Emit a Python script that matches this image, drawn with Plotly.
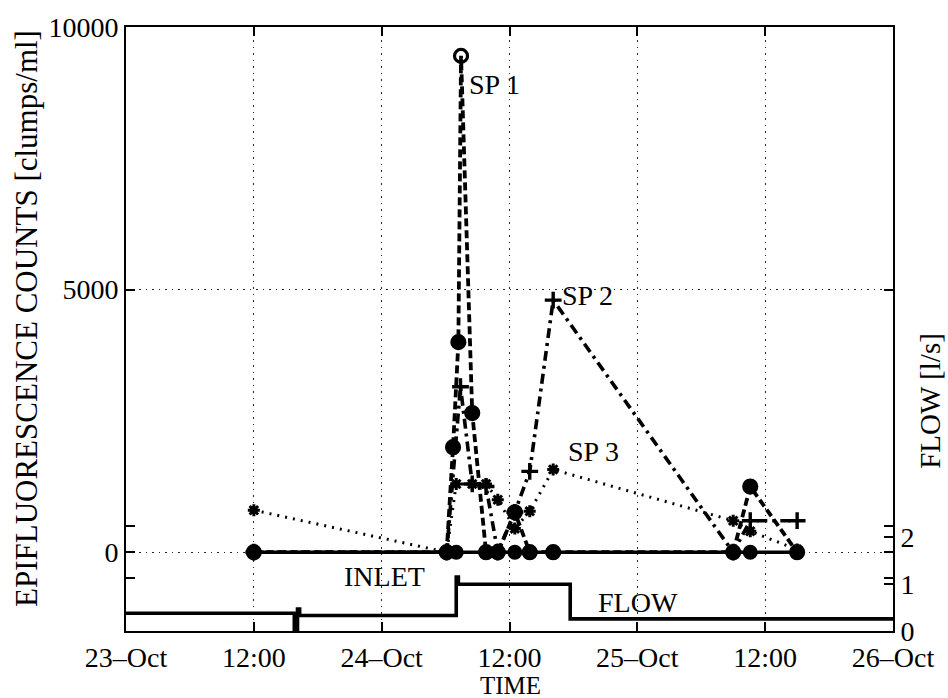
import plotly.graph_objects as go

# ---------------- data (time in hours since 23-Oct 00:00) ----------------
x_tickvals = [0, 12, 24, 36, 48, 60, 72]
x_ticktext = ["23–Oct", "12:00", "24–Oct", "12:00", "25–Oct", "12:00", "26–Oct"]

y_tickvals = [0, 5000, 10000]
y_ticktext = ["0", "5000", "10000"]

flow_tickvals = [0, 1, 2]

inlet_t = [12, 30.1, 31.0, 33.8, 34.9, 36.5, 37.9, 40.1, 57.0, 58.6, 63.0]
inlet_v = [0, 0, 0, 0, 0, 0, 0, 0, 0, 0, 0]

sp1_t = [12, 30.1, 30.7, 31.2, 31.45, 32.5, 33.8, 34.9, 36.5, 37.9, 40.1, 57.0, 58.6, 63.0]
sp1_v = [0, 0, 2000, 4000, 9450, 2650, 0, 0, 760, 0, 0, 0, 1250, 0]

sp2_t = [12, 30.1, 31.4, 32.5, 33.8, 34.9, 36.5, 37.9, 40.1, 57.0, 58.6, 63.0]
sp2_v = [0, 0, 3150, 1300, 1250, 0, 760, 1540, 4800, 0, 600, 600]

sp3_t = [12, 30.1, 31.0, 32.5, 33.8, 34.9, 36.5, 37.9, 40.1, 57.0, 58.6, 63.0]
sp3_v = [800, 0, 1300, 1300, 1300, 1000, 450, 780, 1575, 600, 400, 50]

flow_t = [0, 15.8, 16.1, 16.3, 31.0, 31.2, 41.7, 72]
flow_v = [0.38, 0.0, 0.47, 0.33, 1.15, 1.0, 0.26, 0.26]

FONT = "Liberation Serif"

fig = go.Figure()

# flow (right axis)
fig.add_trace(go.Scatter(x=flow_t, y=flow_v, yaxis="y2", mode="lines",
                         line=dict(color="black", width=3.6, shape="hv"),
                         showlegend=False))

# SP3 dotted, asterisks
fig.add_trace(go.Scatter(x=sp3_t, y=sp3_v, mode="lines+markers",
                         line=dict(color="black", width=3, dash="2px,6px"),
                         marker=dict(symbol="asterisk", size=10, color="black",
                                     line=dict(color="black", width=3)),
                         showlegend=False))

# SP2 dash-dot, plus markers
fig.add_trace(go.Scatter(x=sp2_t, y=sp2_v, mode="lines+markers",
                         line=dict(color="black", width=3.6, dash="10px,5px,3px,5px"),
                         marker=dict(symbol="cross-thin", size=12, color="black",
                                     line=dict(color="black", width=3.4)),
                         showlegend=False))

# SP1 dashed, circles
sp1_symbols = ["circle"] * len(sp1_t)
sp1_symbols[sp1_v.index(max(sp1_v))] = "circle-open"
fig.add_trace(go.Scatter(x=sp1_t, y=sp1_v, mode="lines+markers",
                         line=dict(color="black", width=3.8, dash="8px,4px"),
                         marker=dict(symbol=sp1_symbols, size=13, color="black",
                                     line=dict(color="black", width=3.2)),
                         showlegend=False))

# INLET solid, dots
fig.add_trace(go.Scatter(x=inlet_t, y=inlet_v, mode="lines+markers",
                         line=dict(color="black", width=3.6),
                         marker=dict(symbol="circle", size=15, color="black"),
                         showlegend=False))

# labels
def label(text, x, y, size=28, **kw):
    fig.add_annotation(text=text, x=x, y=y, showarrow=False,
                       xanchor="center", yanchor="middle",
                       font=dict(family=FONT, size=size, color="black"), **kw)

label("SP 1", 34.6, 8900, xref="x", yref="y")
label("SP 2", 43.3, 4880, xref="x", yref="y")
label("SP 3", 43.9, 1910, xref="x", yref="y")
label("INLET", (384 - 126) / 767, (631 - 576) / 606, xref="paper", yref="paper")
label("FLOW", (638 - 126) / 767, (631 - 602) / 606, xref="paper", yref="paper")
label("TIME", (510 - 126) / 767, (631 - 686) / 606, size=25, xref="paper", yref="paper")
label("EPIFLUORESCENCE COUNTS [clumps/ml]", (26 - 126) / 767, (631 - 318) / 606,
      size=31, xref="paper", yref="paper", textangle=-90)
label("FLOW [l/s]", (930 - 126) / 767, (631 - 400) / 606,
      size=29, xref="paper", yref="paper", textangle=-90)

tickfont = dict(family=FONT, size=28, color="black")
grid = dict(showgrid=True, gridcolor="rgba(0,0,0,0.85)", gridwidth=1, griddash="1.5px,5px")

fig.update_layout(
    width=948, height=698,
    margin=dict(l=126, r=55, t=25, b=67),
    paper_bgcolor="white", plot_bgcolor="white",
    xaxis=dict(range=[0, 72], tickvals=x_tickvals, ticktext=x_ticktext,
               ticks="inside", ticklen=9, tickwidth=1.5, tickcolor="black",
               showline=True, linecolor="black", linewidth=1.8, mirror="ticks",
               tickfont=tickfont, zeroline=False, **grid),
    yaxis=dict(range=[-1500, 10000], tickvals=y_tickvals, ticktext=y_ticktext,
               ticks="inside", ticklen=9, tickwidth=1.5, tickcolor="black",
               showline=True, linecolor="black", linewidth=1.8, mirror="ticks",
               tickfont=tickfont, zeroline=False,
               minor=dict(tickvals=[-500, 500], ticks="inside", ticklen=9,
                          tickcolor="black", tickwidth=1.5, showgrid=False),
               **grid),
    yaxis2=dict(range=[0, 12.9], tickvals=flow_tickvals, overlaying="y", side="right",
                ticks="inside", ticklen=9, tickwidth=1.5, tickcolor="black",
                showline=True, linecolor="black", linewidth=1.8,
                tickfont=tickfont, showgrid=False, zeroline=False),
)

fig.write_html("out.html")
